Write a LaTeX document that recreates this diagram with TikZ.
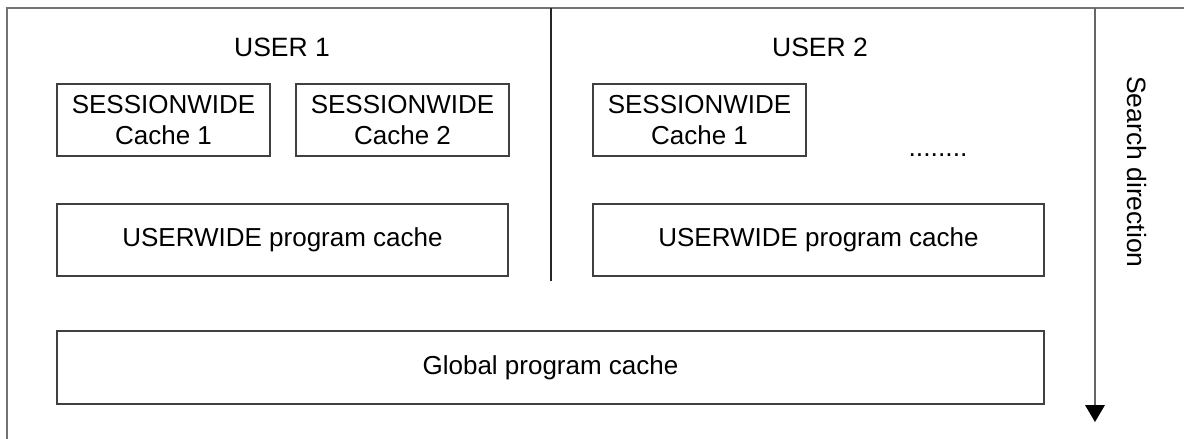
\documentclass[tikz,border=0pt]{standalone}
\usepackage{fontspec}
\setmainfont{Liberation Sans}
\begin{document}
\begin{tikzpicture}[x=1pt,y=-1pt,
  cachebox/.style={draw=black!75,line width=1.1pt,inner sep=0pt,align=center,font=\fontsize{26}{31}\selectfont},
  lbl/.style={font=\fontsize{26.5}{31}\selectfont,inner sep=0pt},
  frame/.style={draw=black!55,line width=1.4pt}]
\useasboundingbox (0,0) rectangle (1184,439);
\fill[white] (0,0) rectangle (1184,439);
\draw[frame] (7,439) -- (7,8) -- (1184,8);
\coordinate (divtop) at (551,8);
\coordinate (divbot) at (551,281);
\draw[draw=black!85,line width=1.1pt] (divtop) -- (divbot);
\node[lbl] (u1) at (282,47) {USER 1};
\node[lbl] (u2) at (820,47) {USER 2};
\node[cachebox,minimum width=213pt,minimum height=72pt] (s11) at (163.5,120) {SESSIONWIDE\\Cache 1};
\node[cachebox,minimum width=213pt,minimum height=72pt] (s12) at (402.5,120) {SESSIONWIDE\\Cache 2};
\node[cachebox,minimum width=213pt,minimum height=72pt] (s21) at (699.5,120) {SESSIONWIDE\\Cache 1};
\node[lbl,anchor=base] (dots) at (938,156) {........};
\node[cachebox,minimum width=451pt,minimum height=72pt] (uw1) at (282.5,240) {USERWIDE program cache};
\node[cachebox,minimum width=451pt,minimum height=72pt] (uw2) at (818.5,240) {USERWIDE program cache};
\node[cachebox,minimum width=987pt,minimum height=73pt] (glob) at (550.5,367.5) {Global program cache};
\coordinate (atop) at (1095,8);
\coordinate (abot) at (1095,405);
\draw[draw=black!60,line width=1.3pt] (atop) -- (abot);
\coordinate (tip) at (1095,422);
\fill[black] (1085,405) -- (1105,405) -- (tip) -- cycle;
\node[lbl,rotate=-90] (sd) at (1137,172) {Search direction};
\end{tikzpicture}
\end{document}
